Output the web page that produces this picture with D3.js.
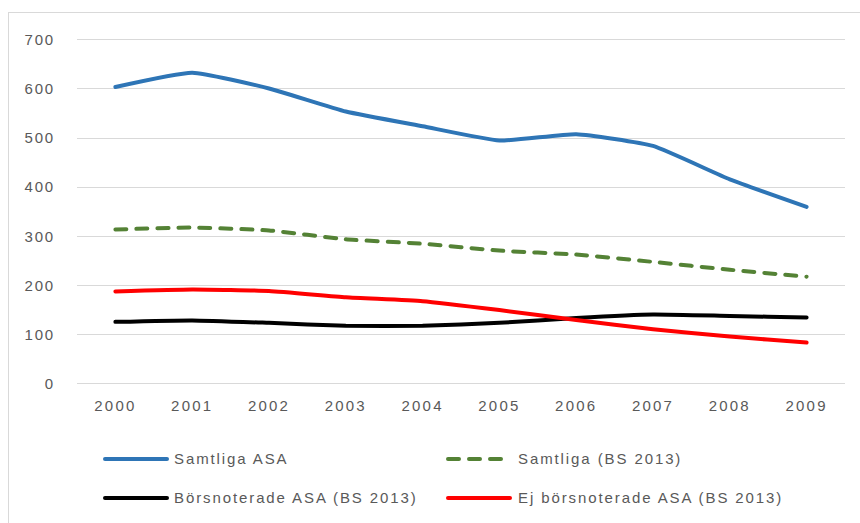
<!DOCTYPE html>
<html>
<head>
<meta charset="utf-8">
<script src="https://cdn.jsdelivr.net/npm/d3@7/dist/d3.min.js"></script>
<style>
  html, body { margin: 0; padding: 0; background: #fff; }
  svg { display: block; }
  .tick-label, .legend-label {
    font-family: "Liberation Sans", "DejaVu Sans", sans-serif;
    fill: #595959;
  }
</style>
</head>
<body>
<svg id="chart" width="860" height="523"></svg>
<script>
// Years on the category axis
const years = ["2000", "2001", "2002", "2003", "2004", "2005", "2006", "2007", "2008", "2009"];

// Series values
const samtligaASA = [603, 632, 600, 553, 523, 494, 507, 483, 415, 359];
const samtligaBS2013 = [313, 317, 311, 293, 284, 270, 262, 247, 231, 217];
const borsnoteradeASA = [125, 128, 123, 117, 117, 123, 133, 140, 137, 134];
const ejBorsnoteradeASA = [187, 191, 188, 175, 167, 149, 129, 110, 95, 83];

// Value axis ticks
const yTicks = [0, 100, 200, 300, 400, 500, 600, 700];

const series = [
  { name: "Samtliga ASA", values: samtligaASA, color: "#2E75B6", dash: null, col: 0, row: 0 },
  { name: "Samtliga (BS 2013)", values: samtligaBS2013, color: "#548235", dash: "11,10", col: 1, row: 0 },
  { name: "Börsnoterade ASA (BS 2013)", values: borsnoteradeASA, color: "#000000", dash: null, col: 0, row: 1 },
  { name: "Ej börsnoterade ASA (BS 2013)", values: ejBorsnoteradeASA, color: "#FF0000", dash: null, col: 1, row: 1 }
];

const svg = d3.select("#chart");

// Outer frame (only the top and left edges fall inside the view)
svg.append("rect")
  .attr("x", 8.5).attr("y", 12.5)
  .attr("width", 900).attr("height", 600)
  .attr("fill", "none").attr("stroke", "#d9d9d9").attr("stroke-width", 1);

const plot = { left: 77, right: 845, top: 39.3, bottom: 383.3 };

const x = d3.scaleBand().domain(years).range([plot.left, plot.right]);
const y = d3.scaleLinear().domain([0, 700]).range([plot.bottom, plot.top]);

// Horizontal gridlines
svg.append("g")
  .selectAll("line")
  .data(yTicks)
  .join("line")
  .attr("x1", plot.left).attr("x2", plot.right)
  .attr("y1", d => Math.round(y(d)) + 0.5).attr("y2", d => Math.round(y(d)) + 0.5)
  .attr("stroke", "#d9d9d9").attr("stroke-width", 1);

// Value axis labels
const yAxis = d3.axisLeft(y).tickValues(yTicks).tickSize(0).tickPadding(0);
const yG = svg.append("g").attr("transform", "translate(55,0)").call(yAxis);
yG.select(".domain").remove();
yG.selectAll("text")
  .attr("class", "tick-label")
  .attr("font-size", 15)
  .attr("letter-spacing", 1.8)
  .attr("dy", "0.35em");

// Category axis labels
const xAxis = d3.axisBottom(x).tickSize(0).tickPadding(0);
const xG = svg.append("g").attr("transform", "translate(0,406)").call(xAxis);
xG.select(".domain").remove();
xG.selectAll("text")
  .attr("class", "tick-label")
  .attr("font-size", 15)
  .attr("letter-spacing", 2.2)
  .attr("dy", "0.35em");

// Series lines, lightly smoothed
const line = d3.line()
  .x((d, i) => x(years[i]) + x.bandwidth() / 2)
  .y(d => y(d))
  .curve(d3.curveCardinal.tension(0.55));

svg.append("g")
  .selectAll("path")
  .data(series)
  .join("path")
  .attr("d", d => line(d.values))
  .attr("fill", "none")
  .attr("stroke", d => d.color)
  .attr("stroke-width", 4)
  .attr("stroke-linecap", "round")
  .attr("stroke-linejoin", "round")
  .attr("stroke-dasharray", d => d.dash);

// Legend
const legendCols = [{ lx: 105, tx: 174 }, { lx: 448, tx: 518 }];
const legendRows = [459, 498];

const items = svg.append("g")
  .selectAll("g")
  .data(series)
  .join("g")
  .attr("transform", d => `translate(0,${legendRows[d.row]})`);

items.append("line")
  .attr("x1", d => legendCols[d.col].lx)
  .attr("x2", d => legendCols[d.col].lx + 62)
  .attr("y1", 0).attr("y2", 0)
  .attr("stroke", d => d.color)
  .attr("stroke-width", 4)
  .attr("stroke-linecap", "round")
  .attr("stroke-dasharray", d => d.dash ? "11,10" : null);

items.append("text")
  .attr("class", "legend-label")
  .attr("x", d => legendCols[d.col].tx)
  .attr("y", 0)
  .attr("dy", "0.35em")
  .attr("font-size", 15)
  .attr("letter-spacing", 1.9)
  .text(d => d.name);
</script>
</body>
</html>
